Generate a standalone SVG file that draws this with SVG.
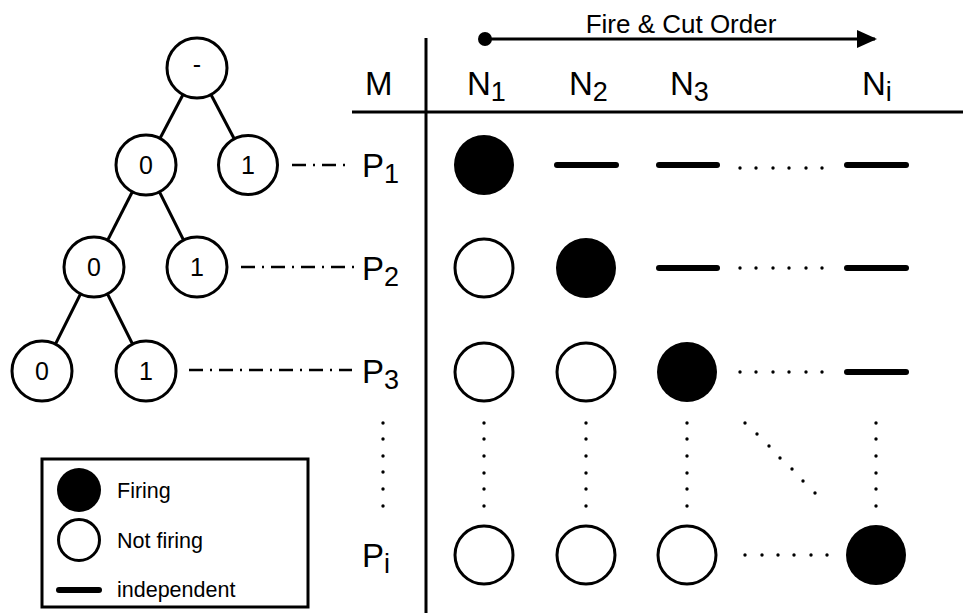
<svg xmlns="http://www.w3.org/2000/svg" width="963" height="613" viewBox="0 0 963 613">
<style>
text{font-family:"Liberation Sans",Arial,sans-serif;fill:#000}
.lbl{font-size:33px}
.sub{font-size:27px}
.tn{font-size:25px;text-anchor:middle}
.leg{font-size:21.5px}
.node{fill:#fff;stroke:#000;stroke-width:3}
.edge{stroke:#000;stroke-width:3}
.dd{stroke:#000;stroke-width:2.5;stroke-dasharray:14 7 2 7;fill:none}
.fire{fill:#000}
.off{fill:#fff;stroke:#000;stroke-width:3}
.ind{stroke:#000;stroke-width:6;stroke-linecap:round}
.dot{fill:#000}
</style>
<defs>
<marker id="ah" viewBox="0 0 20 20" refX="18" refY="10" markerWidth="20" markerHeight="20" markerUnits="userSpaceOnUse" orient="auto"><path d="M0,1 L20,10 L0,19 z" fill="#000"/></marker>
<circle id="d" r="1.7"/>
</defs>

<g id="connectors">
<line class="edge" x1="197" y1="68" x2="146" y2="165"/>
<line class="edge" x1="197" y1="68" x2="248" y2="165"/>
<line class="edge" x1="146" y1="165" x2="94" y2="267"/>
<line class="edge" x1="146" y1="165" x2="197" y2="267"/>
<line class="edge" x1="94" y1="267" x2="42" y2="371"/>
<line class="edge" x1="94" y1="267" x2="146" y2="371"/>
<line class="dd" x1="292" y1="165" x2="345" y2="165"/>
<line class="dd" x1="241" y1="267" x2="354" y2="267"/>
<line class="dd" x1="189" y1="370" x2="352" y2="370"/>
</g>

<g id="tree-root"><circle class="node" cx="197" cy="68" r="30"/><text class="tn" x="197" y="73">-</text></g>
<g id="tree-0a"><circle class="node" cx="146" cy="165" r="30"/><text class="tn" x="146" y="174">0</text></g>
<g id="tree-1a"><circle class="node" cx="248" cy="165" r="29.5"/><text class="tn" x="248" y="174">1</text></g>
<g id="tree-0b"><circle class="node" cx="94" cy="267" r="30"/><text class="tn" x="94" y="276">0</text></g>
<g id="tree-1b"><circle class="node" cx="197" cy="267" r="30"/><text class="tn" x="197" y="276">1</text></g>
<g id="tree-0c"><circle class="node" cx="42" cy="371" r="30"/><text class="tn" x="42" y="380">0</text></g>
<g id="tree-1c"><circle class="node" cx="146" cy="371" r="30"/><text class="tn" x="146" y="380">1</text></g>

<g id="table-axes">
<line x1="426" y1="38" x2="426" y2="613" stroke="#000" stroke-width="3"/>
<line x1="352" y1="112" x2="963" y2="112" stroke="#000" stroke-width="3"/>
</g>

<g id="order-arrow">
<circle cx="485" cy="39" r="7" fill="#000"/>
<line x1="485" y1="39" x2="875" y2="39" stroke="#000" stroke-width="3" marker-end="url(#ah)"/>
<text x="681" y="33" font-size="26" text-anchor="middle">Fire &amp; Cut Order</text>
</g>

<g id="headers">
<text class="lbl" x="365" y="95">M</text>
<text class="lbl" x="467" y="95">N<tspan class="sub" dy="6">1</tspan></text>
<text class="lbl" x="569" y="95">N<tspan class="sub" dy="6">2</tspan></text>
<text class="lbl" x="670" y="95">N<tspan class="sub" dy="6">3</tspan></text>
<text class="lbl" x="862" y="95">N<tspan class="sub" dy="6">i</tspan></text>
<text class="lbl" x="362" y="177">P<tspan class="sub" dy="6">1</tspan></text>
<text class="lbl" x="362" y="280">P<tspan class="sub" dy="6">2</tspan></text>
<text class="lbl" x="362" y="383">P<tspan class="sub" dy="6">3</tspan></text>
<text class="lbl" x="362" y="567">P<tspan class="sub" dy="6">i</tspan></text>
</g>

<g id="row-p1">
<circle class="fire" cx="484" cy="165" r="30"/>
<line class="ind" x1="557" y1="165" x2="616" y2="165"/>
<line class="ind" x1="659" y1="165" x2="717" y2="165"/>
<g class="dot"><use href="#d" x="740" y="168"/><use href="#d" x="756" y="168"/><use href="#d" x="773" y="168"/><use href="#d" x="789" y="168"/><use href="#d" x="806" y="168"/><use href="#d" x="822" y="168"/></g>
<line class="ind" x1="847" y1="165" x2="906" y2="165"/>
</g>

<g id="row-p2">
<circle class="off" cx="484" cy="268" r="29"/>
<circle class="fire" cx="586" cy="268" r="30"/>
<line class="ind" x1="659" y1="268" x2="717" y2="268"/>
<g class="dot"><use href="#d" x="740" y="268"/><use href="#d" x="756" y="268"/><use href="#d" x="773" y="268"/><use href="#d" x="789" y="268"/><use href="#d" x="806" y="268"/><use href="#d" x="822" y="268"/></g>
<line class="ind" x1="847" y1="268" x2="906" y2="268"/>
</g>

<g id="row-p3">
<circle class="off" cx="484" cy="372" r="29"/>
<circle class="off" cx="586" cy="372" r="29"/>
<circle class="fire" cx="687" cy="372" r="30"/>
<g class="dot"><use href="#d" x="740" y="372"/><use href="#d" x="756" y="372"/><use href="#d" x="773" y="372"/><use href="#d" x="789" y="372"/><use href="#d" x="806" y="372"/><use href="#d" x="822" y="372"/></g>
<line class="ind" x1="847" y1="372" x2="906" y2="372"/>
</g>

<g id="ellipsis-vertical" class="dot">
<use href="#d" x="383" y="423"/><use href="#d" x="383" y="439"/><use href="#d" x="383" y="456"/><use href="#d" x="383" y="472"/><use href="#d" x="383" y="489"/><use href="#d" x="383" y="506"/>
<use href="#d" x="484" y="423"/><use href="#d" x="484" y="439"/><use href="#d" x="484" y="456"/><use href="#d" x="484" y="473"/><use href="#d" x="484" y="489"/><use href="#d" x="484" y="506"/>
<use href="#d" x="586" y="423"/><use href="#d" x="586" y="439"/><use href="#d" x="586" y="456"/><use href="#d" x="586" y="473"/><use href="#d" x="586" y="489"/><use href="#d" x="586" y="506"/>
<use href="#d" x="687" y="423"/><use href="#d" x="687" y="439"/><use href="#d" x="687" y="456"/><use href="#d" x="687" y="473"/><use href="#d" x="687" y="489"/><use href="#d" x="687" y="506"/>
<use href="#d" x="876" y="423"/><use href="#d" x="876" y="439"/><use href="#d" x="876" y="456"/><use href="#d" x="876" y="473"/><use href="#d" x="876" y="489"/><use href="#d" x="876" y="506"/>
<use href="#d" x="745" y="423"/><use href="#d" x="757" y="434"/><use href="#d" x="769" y="446"/><use href="#d" x="780" y="458"/><use href="#d" x="792" y="469"/><use href="#d" x="803" y="481"/><use href="#d" x="815" y="493"/>
</g>

<g id="row-pi">
<circle class="off" cx="484" cy="555" r="29"/>
<circle class="off" cx="586" cy="555" r="29"/>
<circle class="off" cx="687" cy="555" r="29"/>
<g class="dot"><use href="#d" x="745" y="555"/><use href="#d" x="762" y="555"/><use href="#d" x="778" y="555"/><use href="#d" x="794" y="555"/><use href="#d" x="811" y="555"/><use href="#d" x="827" y="555"/></g>
<circle class="fire" cx="876" cy="555" r="30"/>
</g>

<g id="legend">
<rect x="42" y="459" width="266" height="148" fill="#fff" stroke="#000" stroke-width="3"/>
<circle cx="79" cy="490" r="22" fill="#000"/>
<text class="leg" x="117" y="498">Firing</text>
<circle cx="79" cy="540" r="20.5" fill="#fff" stroke="#000" stroke-width="3"/>
<text class="leg" x="117" y="548">Not firing</text>
<line class="ind" x1="59" y1="590" x2="99" y2="590"/>
<text class="leg" x="117" y="597">independent</text>
</g>
</svg>
